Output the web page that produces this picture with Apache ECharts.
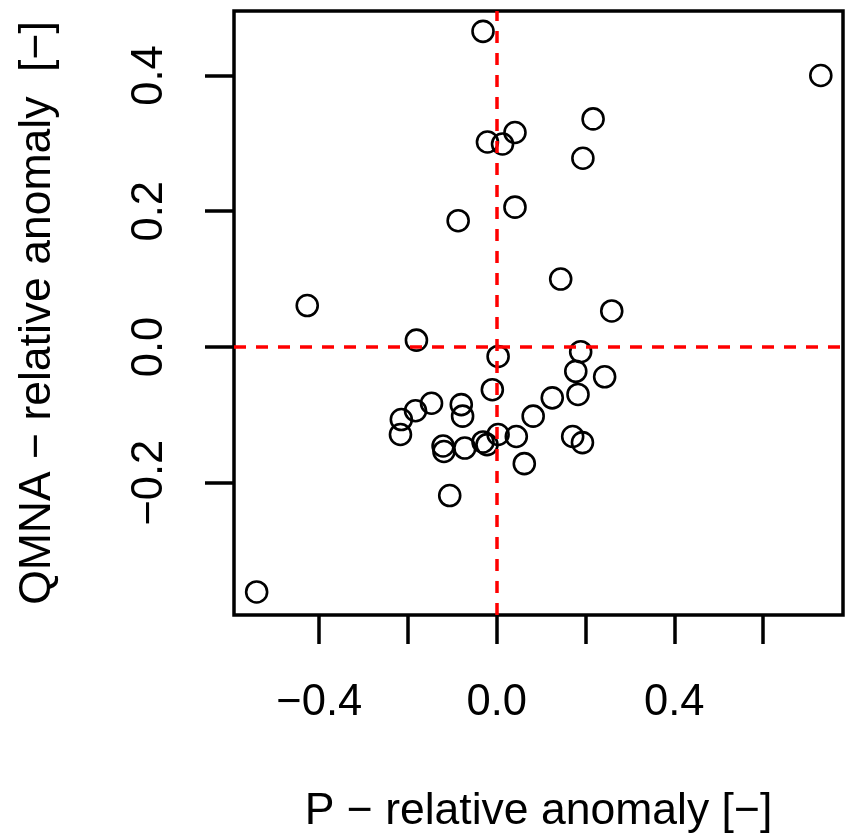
<!DOCTYPE html>
<html>
<head>
<meta charset="utf-8">
<title>QMNA vs P relative anomaly</title>
<script src="https://cdn.jsdelivr.net/npm/echarts@6/dist/echarts.min.js"></script>
<style>
  html, body { margin: 0; padding: 0; background: #ffffff; }
  #chart { width: 849px; height: 839px; }
</style>
</head>
<body>
<div id="chart"></div>
<script>
// P - relative anomaly (x)
var pAnomaly = [
    -0.541, -0.427, -0.181, -0.087, -0.031, -0.021, 0.013, 0.041, 0.041, 0.217,
    0.194, 0.144, 0.259, 0.003, 0.189, 0.178, 0.243, 0.183, 0.125, 0.082,
    -0.010, -0.147, -0.183, -0.215, -0.217, -0.080, -0.077, -0.121, -0.119, -0.072,
    -0.031, -0.022, 0.003, 0.044, 0.171, 0.193, 0.062, -0.106, 0.730
];
// QMNA - relative anomaly (y)
var qmnaAnomaly = [
    -0.361, 0.061, 0.010, 0.186, 0.465, 0.302, 0.299, 0.316, 0.206, 0.336,
    0.278, 0.100, 0.053, -0.014, -0.007, -0.036, -0.044, -0.070, -0.075, -0.102,
    -0.063, -0.083, -0.094, -0.107, -0.129, -0.085, -0.102, -0.146, -0.154, -0.149,
    -0.140, -0.144, -0.129, -0.132, -0.132, -0.141, -0.172, -0.219, 0.400
];

var xTicks = [-0.4, -0.2, 0.0, 0.2, 0.4, 0.6];
var xLabels = [-0.4, 0.0, 0.4];
var yTicks = [-0.2, 0.0, 0.2, 0.4];
var yLabels = [-0.2, 0.0, 0.2, 0.4];

var points = [];
pAnomaly.forEach(function (d, i) {
    points.push([d, qmnaAnomaly[i]]);
});

var font = 'Liberation Sans, Arial, Helvetica, sans-serif';

function fmt(v) {
    // R style minus sign
    return v.toFixed(1).replace('-', '\u2212');
}

var chart = echarts.init(document.getElementById('chart'), null, { renderer: 'canvas' });

var option = {
    backgroundColor: '#ffffff',
    animation: false,
    grid: {
        left: 234,
        right: 6,
        top: 11,
        bottom: 222,
        show: true,
        borderColor: '#000000',
        borderWidth: 3.5,
        backgroundColor: 'transparent'
    },
    xAxis: {
        type: 'value',
        min: -0.592,
        max: 0.780,
        name: 'P \u2212 relative anomaly [\u2212]',
        nameLocation: 'middle',
        nameGap: 174,
        nameTextStyle: { fontFamily: font, fontSize: 44.5, color: '#000000' },
        axisLine: { show: false, onZero: false },
        splitLine: { show: false },
        axisTick: {
            show: true,
            inside: false,
            length: 29,
            customValues: xTicks,
            lineStyle: { color: '#000000', width: 3.5 }
        },
        axisLabel: {
            show: true,
            margin: 66,
            customValues: xLabels,
            formatter: fmt,
            fontFamily: font,
            fontSize: 43.5,
            color: '#000000'
        }
    },
    yAxis: {
        type: 'value',
        min: -0.395,
        max: 0.495,
        name: 'QMNA \u2212 relative anomaly  [\u2212]',
        nameLocation: 'middle',
        nameGap: 174,
        nameTextStyle: { fontFamily: font, fontSize: 44.5, color: '#000000' },
        axisLine: { show: false, onZero: false },
        splitLine: { show: false },
        axisTick: {
            show: true,
            inside: false,
            length: 29,
            customValues: yTicks,
            lineStyle: { color: '#000000', width: 3.5 }
        },
        axisLabel: {
            show: true,
            rotate: 90,
            margin: 62,
            customValues: yLabels,
            formatter: fmt,
            fontFamily: font,
            fontSize: 43.5,
            color: '#000000'
        }
    },
    series: [{
        type: 'scatter',
        data: points,
        symbol: 'circle',
        symbolSize: 21,
        silent: true,
        itemStyle: {
            color: 'transparent',
            borderColor: '#000000',
            borderWidth: 2.6,
            opacity: 1
        },
        emphasis: { disabled: true },
        // dashed red reference lines at zero
        markLine: {
            silent: true,
            symbol: ['none', 'none'],
            label: { show: false },
            lineStyle: { color: '#ff0000', width: 3.5, type: [12, 10] },
            emphasis: { disabled: true },
            data: [{ xAxis: 0 }, { yAxis: 0 }]
        }
    }]
};

chart.setOption(option);
</script>
</body>
</html>
